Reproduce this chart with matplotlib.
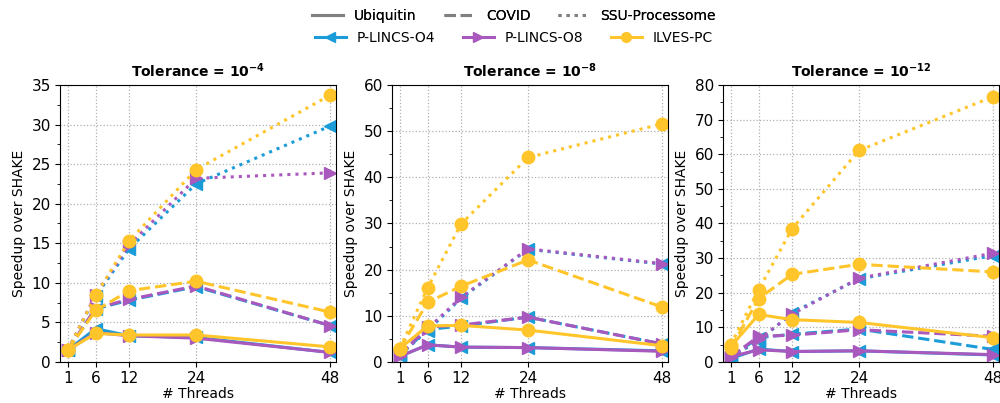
import numpy as np
import matplotlib.pyplot as plt
from matplotlib.lines import Line2D
from matplotlib.ticker import AutoMinorLocator

threads = [1, 6, 12, 24, 48]
tolerances = ["-4", "-8", "-12"]
datasets = ["Ubiquitin", "COVID", "SSU-Processome"]
methods = ["P-LINCS-O4", "P-LINCS-O8", "ILVES-PC"]

# speedup[tolerance][method][dataset]
tol4 = {
    "P-LINCS-O4": {"Ubiquitin": [1.5, 4.2, 3.3, 3.1, 1.2],
                   "COVID": [1.5, 6.7, 7.8, 9.5, 4.6],
                   "SSU-Processome": [1.5, 8.3, 14.3, 22.5, 29.8]},
    "P-LINCS-O8": {"Ubiquitin": [1.5, 3.7, 3.3, 3.0, 1.2],
                   "COVID": [1.5, 6.8, 7.9, 9.6, 4.6],
                   "SSU-Processome": [1.5, 8.5, 14.8, 23.2, 23.9]},
    "ILVES-PC": {"Ubiquitin": [1.5, 3.6, 3.4, 3.4, 1.9],
                 "COVID": [1.5, 6.5, 9.0, 10.2, 6.3],
                 "SSU-Processome": [1.5, 8.4, 15.3, 24.3, 33.7]},
}
tol8 = {
    "P-LINCS-O4": {"Ubiquitin": [1.2, 3.7, 3.2, 3.1, 2.4],
                   "COVID": [1.5, 7.0, 7.8, 9.7, 3.9],
                   "SSU-Processome": [1.5, 6.8, 13.8, 24.4, 21.2]},
    "P-LINCS-O8": {"Ubiquitin": [1.2, 3.7, 3.2, 3.1, 2.3],
                   "COVID": [1.5, 7.5, 8.0, 9.7, 3.9],
                   "SSU-Processome": [1.5, 7.2, 14.0, 24.5, 21.3]},
    "ILVES-PC": {"Ubiquitin": [2.9, 7.8, 7.9, 6.9, 3.5],
                 "COVID": [2.9, 12.9, 16.4, 22.1, 11.9],
                 "SSU-Processome": [2.9, 16.1, 29.9, 44.3, 51.6]},
}
tol12 = {
    "P-LINCS-O4": {"Ubiquitin": [1.0, 3.7, 3.0, 3.2, 2.0],
                   "COVID": [1.5, 7.0, 8.0, 9.5, 3.6],
                   "SSU-Processome": [1.5, 6.0, 14.2, 24.0, 30.7]},
    "P-LINCS-O8": {"Ubiquitin": [1.5, 3.5, 3.0, 3.2, 2.1],
                   "COVID": [1.5, 7.4, 7.7, 9.3, 7.4],
                   "SSU-Processome": [1.5, 6.5, 13.8, 24.2, 31.4]},
    "ILVES-PC": {"Ubiquitin": [4.5, 13.7, 12.2, 11.4, 7.0],
                 "COVID": [4.0, 18.3, 25.3, 28.2, 26.0],
                 "SSU-Processome": [5.0, 20.9, 38.5, 61.1, 76.6]},
}
all_data = [tol4, tol8, tol12]
ymax = [35, 60, 80]
ystep = [5, 10, 10]

colors = {"P-LINCS-O4": "#1B9CD8", "P-LINCS-O8": "#A958BD", "ILVES-PC": "#FFC52A"}
markers = {"P-LINCS-O4": "<", "P-LINCS-O8": ">", "ILVES-PC": "o"}
styles = {"Ubiquitin": "-", "COVID": "--", "SSU-Processome": ":"}

fig = plt.figure(figsize=(10, 4.03), dpi=100)
lefts = [0.060, 0.392, 0.723]
axes = [fig.add_axes([l, 0.102, 0.276, 0.687]) for l in lefts]

for ax, data, tol, ym, st in zip(axes, all_data, tolerances, ymax, ystep):
    for m in methods:
        for d in datasets:
            ax.plot(threads, data[m][d], color=colors[m], marker=markers[m],
                    linestyle=styles[d], linewidth=2.2, markersize=9)
    ax.set_xlim(-0.4, 49.1)
    ax.set_ylim(0, ym)
    ax.set_xticks(threads)
    ax.set_yticks(np.arange(0, ym + 1, st))
    ax.yaxis.set_minor_locator(AutoMinorLocator(2))
    ax.grid(True, linestyle=':', color='#b0b0b0', linewidth=0.9)
    ax.tick_params(labelsize=11, pad=3)
    ax.set_xlabel("# Threads", fontsize=10, labelpad=1)
    ax.set_ylabel("Speedup over SHAKE", fontsize=10, labelpad=4)
    ax.set_title(r"Tolerance = $\mathbf{10^{%s}}$" % tol, fontsize=10,
                 fontweight='bold', pad=6)

# two centred legend rows: datasets (line style) and methods (colour/marker)
ds_handles = [Line2D([], [], color='gray', linestyle=styles[d], linewidth=2.2) for d in datasets]
m_handles = [Line2D([], [], color=colors[m], marker=markers[m], linewidth=2.2, markersize=7) for m in methods]
leg1 = fig.legend(ds_handles, datasets, ncol=3, loc='center', bbox_to_anchor=(0.514, 0.96),
                  frameon=False, fontsize=10, columnspacing=2.0, handlelength=2.2,
                  borderpad=0, borderaxespad=0)
fig.legend(m_handles, methods, ncol=3, loc='center', bbox_to_anchor=(0.514, 0.905),
           frameon=False, fontsize=10, columnspacing=2.0, handlelength=2.2,
           borderpad=0, borderaxespad=0)
fig.add_artist(leg1)

fig.savefig("out.png", dpi=100)
